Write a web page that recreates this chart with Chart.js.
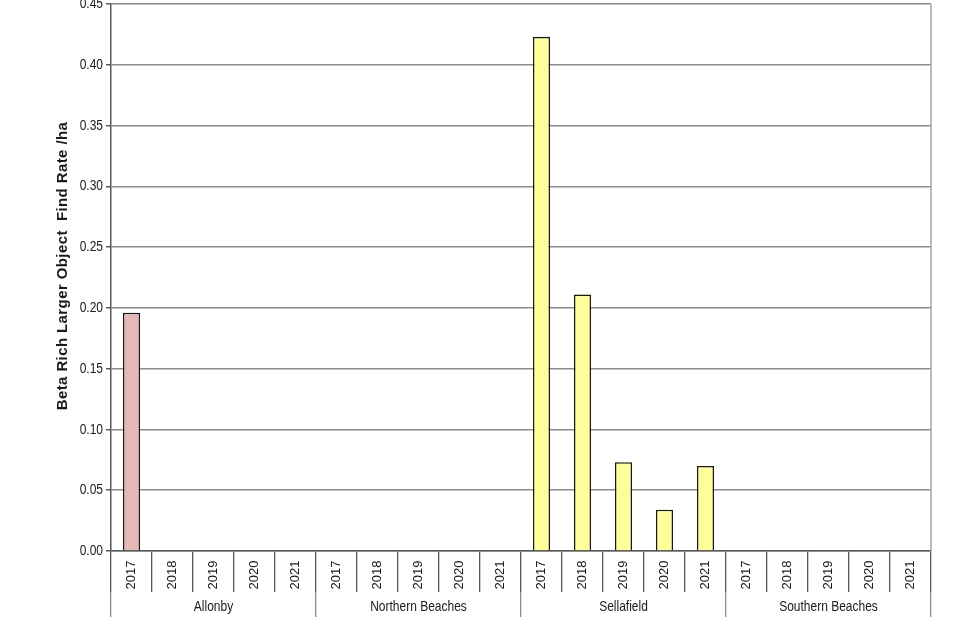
<!DOCTYPE html>
<html lang="en">
<head>
    <meta charset="UTF-8">
    <title>Beta Rich Larger Object Find Rate</title>
    <script src="https://cdn.jsdelivr.net/npm/chart.js"></script>
    <style>
        * { margin: 0; padding: 0; box-sizing: border-box; }
        body { background: #fff; width: 960px; height: 640px; overflow: hidden; }
        #chart { display: block; }
    </style>
</head>
<body>
    <canvas id="chart" width="960" height="640"></canvas>

    <script>
        // Data
        const groups = ['Allonby', 'Northern Beaches', 'Sellafield', 'Southern Beaches'];
        const years = ['2017', '2018', '2019', '2020', '2021'];
        const allonby = [0.196, null, null, null, null];
        const northernBeaches = [null, null, null, null, null];
        const sellafield = [0.423, 0.211, 0.073, 0.034, 0.070];
        const southernBeaches = [null, null, null, null, null];
        const groupColors = ['#e6b8b7', '#c5d9f1', '#ffff99', '#d8e4bc'];
        const yTicks = [0, 0.05, 0.10, 0.15, 0.20, 0.25, 0.30, 0.35, 0.40, 0.45];
        const yTitle = 'Beta Rich Larger Object  Find Rate /ha';

        // flatten groups x years into one category axis
        const series = [allonby, northernBeaches, sellafield, southernBeaches];
        const labels = [];
        const values = [];
        const colors = [];
        groups.forEach((g, gi) => {
            years.forEach((y, yi) => {
                labels.push(g + ' ' + y);
                values.push(series[gi][yi]);
                colors.push(groupColors[gi]);
            });
        });

        // narrow-looking text (no Arial Narrow here, so squeeze Liberation Sans)
        function narrowText(ctx, text, x, y, align) {
            ctx.save();
            ctx.translate(x, y);
            ctx.scale(0.8, 1);
            ctx.textAlign = align;
            ctx.fillText(text, 0, 0);
            ctx.restore();
        }

        // tick labels, year labels, group labels, y title and right border
        const decorations = {
            id: 'decorations',
            afterDraw(chart) {
                const ctx = chart.ctx;
                const x = chart.scales.x;
                const y = chart.scales.y;
                const area = chart.chartArea;
                ctx.save();

                ctx.strokeStyle = '#a6a6a6';
                ctx.lineWidth = 1.5;
                ctx.beginPath();
                ctx.moveTo(area.right, area.top);
                ctx.lineTo(area.right, area.bottom);
                ctx.stroke();

                ctx.fillStyle = '#1a1a1a';
                ctx.textBaseline = 'middle';

                ctx.font = '15px "Liberation Sans", Arial, sans-serif';
                yTicks.forEach(v => {
                    narrowText(ctx, v.toFixed(2), y.right - 8, y.getPixelForValue(v), 'right');
                });

                ctx.font = '13px "Liberation Sans", Arial, sans-serif';
                ctx.textAlign = 'center';
                labels.forEach((l, i) => {
                    const px = x.getPixelForValue(i);
                    ctx.save();
                    ctx.translate(px, x.top + 24);
                    ctx.rotate(-Math.PI / 2);
                    ctx.fillText(years[i % years.length], 0, 0);
                    ctx.restore();
                });

                ctx.font = '15px "Liberation Sans", Arial, sans-serif';
                groups.forEach((g, gi) => {
                    const a = x.getPixelForValue(gi * years.length);
                    const b = x.getPixelForValue(gi * years.length + years.length - 1);
                    narrowText(ctx, g, (a + b) / 2, x.top + 56, 'center');
                });

                ctx.font = 'bold 15px "Liberation Sans", Arial, sans-serif';
                ctx.letterSpacing = '0.4px';
                ctx.textAlign = 'center';
                ctx.translate(63, 266);
                ctx.rotate(-Math.PI / 2);
                ctx.fillText(yTitle, 0, 0);
                ctx.restore();
            }
        };

        new Chart(document.getElementById('chart'), {
            type: 'bar',
            data: {
                labels: labels,
                datasets: [{
                    data: values,
                    backgroundColor: colors,
                    borderColor: '#1a1a1a',
                    borderWidth: 1.6,
                    barPercentage: 0.42,
                    categoryPercentage: 1
                }]
            },
            options: {
                responsive: false,
                animation: false,
                layout: { padding: { left: 0, top: 4, right: 29, bottom: 23 } },
                plugins: {
                    legend: { display: false },
                    tooltip: { enabled: false }
                },
                scales: {
                    x: {
                        weight: 0,
                        grid: {
                            offset: true,
                            drawOnChartArea: false,
                            tickLength: 41,
                            color: '#595959',
                            lineWidth: 1.3
                        },
                        border: { color: '#595959', width: 1.5 },
                        ticks: { display: false }
                    },
                    x2: {
                        type: 'category',
                        position: 'bottom',
                        weight: 1,
                        labels: groups,
                        offset: true,
                        grid: {
                            offset: true,
                            drawOnChartArea: false,
                            tickLength: 25,
                            color: '#8c8c8c',
                            lineWidth: 1.3
                        },
                        border: { display: false },
                        ticks: { display: false }
                    },
                    y: {
                        min: 0,
                        max: 0.45,
                        afterBuildTicks(scale) {
                            scale.ticks = yTicks.map(v => ({ value: v }));
                        },
                        afterFit(scale) {
                            scale.width = 111;
                            scale.paddingTop = 0;
                            scale.paddingBottom = 0;
                        },
                        grid: {
                            color: '#8c8c8c',
                            lineWidth: 1.5,
                            tickLength: 5,
                            tickColor: '#595959'
                        },
                        border: { color: '#595959', width: 1.5 },
                        ticks: { display: false }
                    }
                }
            },
            plugins: [decorations]
        });
    </script>
</body>
</html>
